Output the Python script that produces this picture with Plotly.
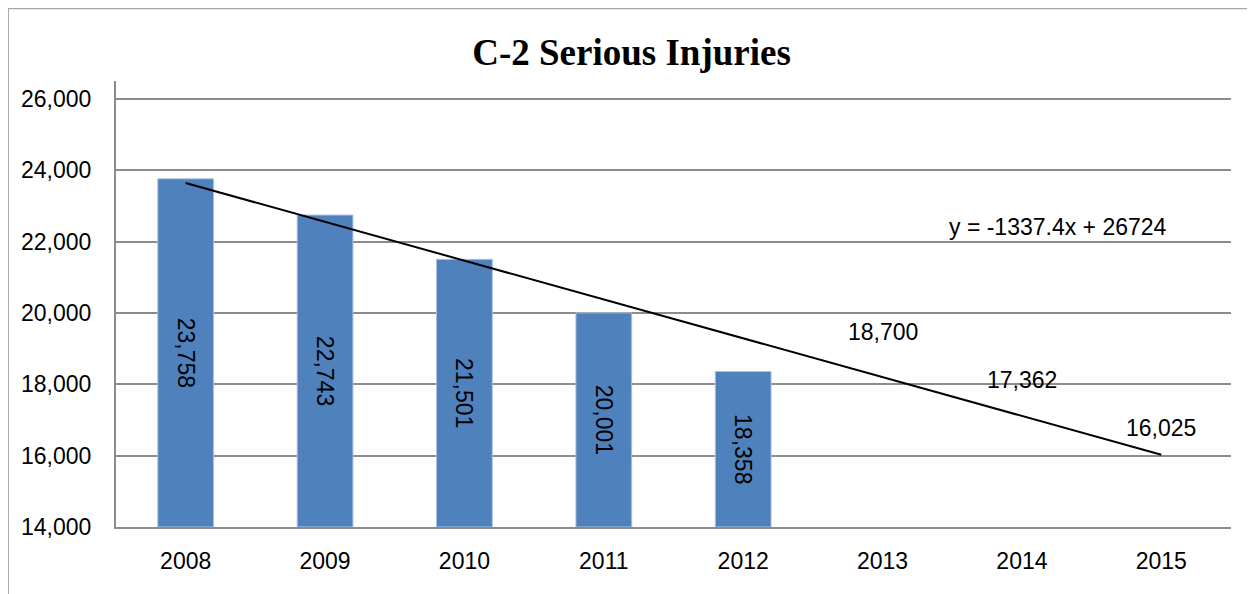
import plotly.graph_objects as go

years = ["2008", "2009", "2010", "2011", "2012", "2013", "2014", "2015"]
bar_years = ["2008", "2009", "2010", "2011", "2012"]
injuries = [23758, 22743, 21501, 20001, 18358]
proj_years = ["2013", "2014", "2015"]
projected = [18700, 17362, 16025]
trend_years = ["2008", "2015"]
trend_vals = [23640, 16025]
equation = "y = -1337.4x + 26724"

font = "Liberation Sans"
y_min = 14000

fig = go.Figure()
# bars drawn from the axis floor so the inside labels sit mid-bar
fig.add_trace(go.Bar(
    x=bar_years, y=[v - y_min for v in injuries], base=y_min,
    marker=dict(color="#4F81BD", line=dict(color="#A9C0DE", width=1)),
    text=[f"{v:,}" for v in injuries],
    textposition="inside", insidetextanchor="middle", textangle=90,
    textfont=dict(family=font, size=23, color="black"),
    width=0.4, showlegend=False))
fig.add_trace(go.Scatter(
    x=trend_years, y=trend_vals, mode="lines",
    line=dict(color="black", width=2), showlegend=False))

for yr, v in zip(proj_years, projected):
    fig.add_annotation(x=years.index(yr), y=v, text=f"{v:,}", showarrow=False,
                       yshift=27, xanchor="center",
                       font=dict(family=font, size=23, color="black"))

fig.add_annotation(x=0.845, xref="paper", y=22415, yref="y", text=equation,
                   showarrow=False, xanchor="center",
                   font=dict(family=font, size=23, color="black"))

# outer chart border
fig.add_shape(type="rect", xref="paper", yref="paper",
              x0=-0.0969, x1=1.0206, y0=-0.3, y1=1.163,
              line=dict(color="#A6A6A6", width=2), layer="below")

fig.update_layout(
    title=dict(text="<b>C-2 Serious Injuries</b>", x=0.5, xref="container",
               y=0.925, yref="container", yanchor="middle",
               font=dict(family="Liberation Serif", size=37, color="black")),
    width=1247, height=586,
    margin=dict(l=108, r=24, t=73, b=67),
    plot_bgcolor="white", paper_bgcolor="white",
    xaxis=dict(type="category", categoryarray=years, categoryorder="array",
               range=[-0.5, 7.5], showgrid=False, showline=True,
               linecolor="#8C8C8C", linewidth=2, ticks="",
               ticklabelstandoff=12,
               tickfont=dict(family=font, size=23, color="black")),
    yaxis=dict(range=[y_min, 26500], tickvals=[14000, 16000, 18000, 20000, 22000, 24000, 26000],
               tickformat=",", showgrid=True, gridcolor="#8C8C8C", gridwidth=2,
               showline=True, linecolor="#8C8C8C", linewidth=2, ticks="",
               zeroline=False, ticklabelstandoff=18,
               tickfont=dict(family=font, size=23, color="black")),
)

fig.write_html("out.html")
